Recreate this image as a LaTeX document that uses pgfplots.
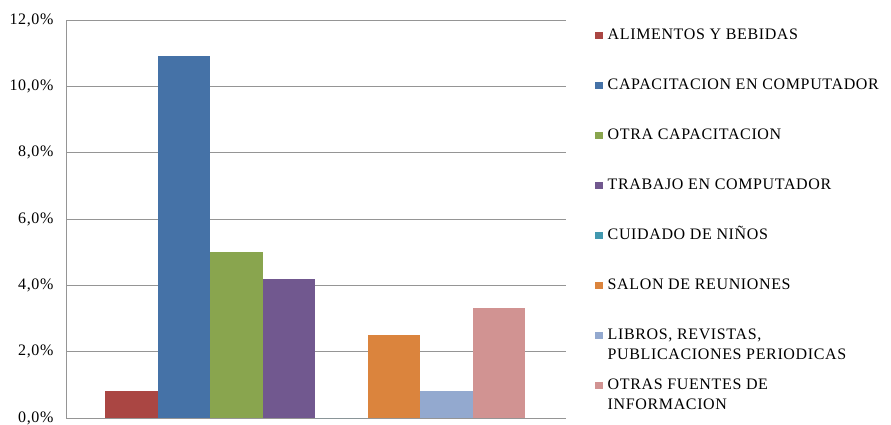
\documentclass[border=0pt]{standalone}
\usepackage{fontspec}
\setmainfont{Liberation Serif}[LetterSpace=4]
\usepackage{pgfplots}
\pgfplotsset{compat=1.18}
\definecolor{c1}{HTML}{AA4643}
\definecolor{c2}{HTML}{4572A7}
\definecolor{c3}{HTML}{89A54E}
\definecolor{c4}{HTML}{71588F}
\definecolor{c5}{HTML}{4198AF}
\definecolor{c6}{HTML}{DB843D}
\definecolor{c7}{HTML}{93A9CF}
\definecolor{c8}{HTML}{D19392}
\definecolor{gridgray}{HTML}{959595}
\newcommand{\E}[1]{\rule[-4pt]{0pt}{14pt}\smash{\begin{tabular}[t]{@{}l@{}}#1\end{tabular}}}
\begin{document}
\begin{tikzpicture}
\useasboundingbox (0,0) rectangle (891pt,424pt);
\begin{axis}[
  at={(66pt,6pt)}, anchor=south west,
  width=500pt, height=398pt, scale only axis,
  ybar, bar width=1,
  xmin=-1.243, xmax=8.281, ymin=0, ymax=12,
  xtick=\empty, ytick={0,2,...,12},
  ymajorgrids, major grid style={color=gridgray, line width=0.9pt},
  axis x line*=bottom, axis y line*=left,
  axis line style={color=gridgray, line width=0.9pt, -},
  major tick length=0pt,
  yticklabel={\pgfmathprintnumber[fixed,fixed zerofill,precision=1,use comma,assume math mode=true]{\tick}\%},
  tick label style={font=\fontsize{16}{19}\selectfont},
  yticklabel style={xshift=-9pt},
  legend image code/.code={\fill[#1] (0pt,-3.5pt) rectangle (7.5pt,4pt);},
  legend cell align=left,
  legend style={draw=none, fill=none, inner sep=0pt, anchor=north west,
    at={(1.058,0.976)}, row sep=38.5pt, column sep=5pt,
    nodes={inner sep=0pt}, font=\fontsize{16}{19.5}\selectfont},
]
\addplot[fill=c1, draw=none, bar shift=0pt] coordinates {(0,0.81)};
\addlegendentry{\E{ALIMENTOS Y BEBIDAS}}
\addplot[fill=c2, draw=none, bar shift=0pt] coordinates {(1,10.92)};
\addlegendentry{\E{CAPACITACION EN COMPUTADOR}}
\addplot[fill=c3, draw=none, bar shift=0pt] coordinates {(2,5.01)};
\addlegendentry{\E{OTRA CAPACITACION}}
\addplot[fill=c4, draw=none, bar shift=0pt] coordinates {(3,4.19)};
\addlegendentry{\E{TRABAJO EN COMPUTADOR}}
\addplot[fill=c5, draw=none, bar shift=0pt] coordinates {(4,0)};
\addlegendentry{\E{CUIDADO DE NIÑOS}}
\addplot[fill=c6, draw=none, bar shift=0pt] coordinates {(5,2.51)};
\addlegendentry{\E{SALON DE REUNIONES}}
\addplot[fill=c7, draw=none, bar shift=0pt] coordinates {(6,0.81)};
\addlegendentry{\E{LIBROS, REVISTAS,\\PUBLICACIONES PERIODICAS}}
\addplot[fill=c8, draw=none, bar shift=0pt] coordinates {(7,3.33)};
\addlegendentry{\E{OTRAS FUENTES DE\\INFORMACION}}
\end{axis}
\end{tikzpicture}
\end{document}
